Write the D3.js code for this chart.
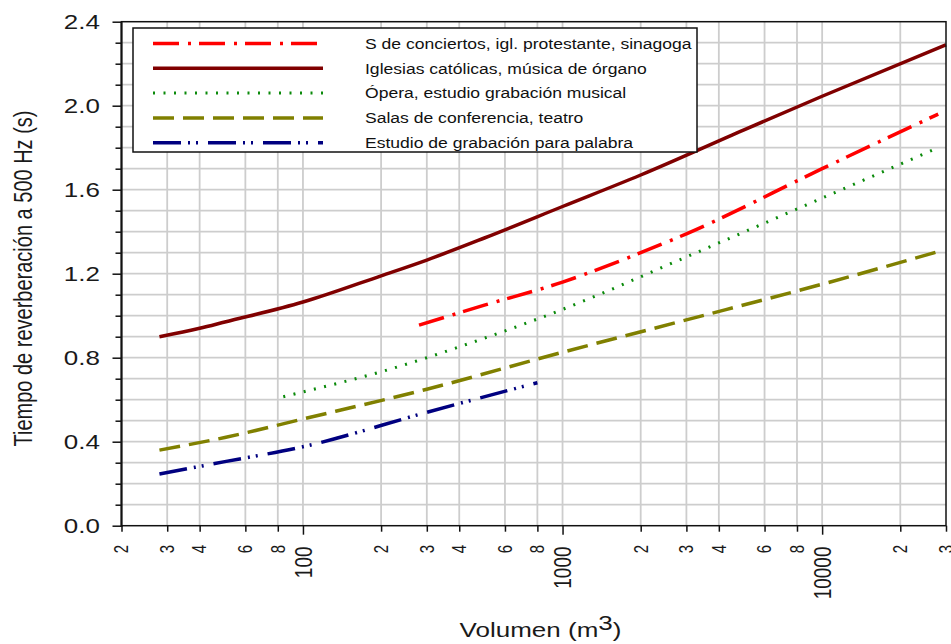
<!DOCTYPE html>
<html>
<head>
<meta charset="utf-8">
<script src="https://cdn.jsdelivr.net/npm/d3@7"></script>
<style>
  body { margin: 0; background: #fff; }
  svg { display: block; font-family: 'Liberation Sans', Arial, sans-serif; }
</style>
</head>
<body>
<svg width="951" height="644"></svg>
<script>
// legend labels, same order as the series below
const legendLabels = [
    'S de conciertos, igl. protestante, sinagoga',
    'Iglesias católicas, música de órgano',
    'Ópera, estudio grabación musical',
    'Salas de conferencia, teatro',
    'Estudio de grabación para palabra'
];

// volumen (m3) / tiempo de reverberación (s)
const concertVolume = [280, 500, 1000, 2000, 3000, 10000, 28000];
const concertTime = [0.955, 1.05, 1.16, 1.30, 1.39, 1.70, 1.96];
const catholicVolume = [28, 40, 50, 100, 200, 300, 500, 1000, 2000, 5000, 10000, 30000];
const catholicTime = [0.90, 0.94, 0.97, 1.065, 1.19, 1.265, 1.37, 1.52, 1.67, 1.885, 2.045, 2.29];
const operaVolume = [84, 100, 200, 500, 1000, 3000, 10000, 28000];
const operaTime = [0.614, 0.637, 0.733, 0.893, 1.03, 1.28, 1.56, 1.80];
const lectureVolume = [28, 50, 100, 300, 1000, 3000, 10000, 28000];
const lectureTime = [0.36, 0.42, 0.508, 0.65, 0.826, 0.98, 1.15, 1.305];
const speechVolume = [28, 50, 100, 300, 800];
const speechTime = [0.246, 0.305, 0.376, 0.54, 0.681];

// tick values
const xMajorTicks = [100, 1000, 10000];
const xMinorTicks = [20, 30, 40, 60, 80, 200, 300, 400, 600, 800, 2000, 3000, 4000, 6000, 8000, 20000, 30000];
const yMajorTicks = [0, 0.4, 0.8, 1.2, 1.6, 2.0, 2.4];
const yMinorTicks = [0.1, 0.2, 0.3, 0.5, 0.6, 0.7, 0.9, 1.0, 1.1, 1.3, 1.4, 1.5, 1.7, 1.8, 1.9, 2.1, 2.2, 2.3];

function main() {
    const svg = d3.select('svg');
    const stretch = 'scale(1.3,1)'; // text in the picture is wider than normal

    const x = d3.scaleLog().domain([20, 30000]).range([121.5, 946]);
    const y = d3.scaleLinear().domain([0, 2.4]).range([525.7, 21.7]);

    const series = [
        { vol: concertVolume, t: concertTime, color: '#ff0000', width: 3.5, dash: '26 9 3 8' },
        { vol: catholicVolume, t: catholicTime, color: '#800000', width: 3.5, dash: null },
        { vol: operaVolume, t: operaTime, color: '#0a8a0a', width: 3, dash: '2 8.5' },
        { vol: lectureVolume, t: lectureTime, color: '#808000', width: 3.5, dash: '21 9' },
        { vol: speechVolume, t: speechTime, color: '#000080', width: 3.5, dash: '28 7 2 6 2 10' }
    ];

    /** grid */
    const grid = svg.append('g').attr('stroke', '#cdcdcd').attr('stroke-width', 1.8);
    grid.selectAll('.vg')
        .data(xMajorTicks.concat(xMinorTicks).filter(function (d) { return d > 20 && d < 30000; }))
        .enter().append('line')
        .attr('x1', function (d) { return x(d); })
        .attr('x2', function (d) { return x(d); })
        .attr('y1', y(0))
        .attr('y2', y(2.4));
    grid.selectAll('.hg')
        .data(yMajorTicks.concat(yMinorTicks).filter(function (d) { return d > 0 && d < 2.4; }))
        .enter().append('line')
        .attr('x1', x(20))
        .attr('x2', x(30000))
        .attr('y1', function (d) { return y(d); })
        .attr('y2', function (d) { return y(d); });

    /** curves */
    const line = d3.line()
        .x(function (d) { return x(d[0]); })
        .y(function (d) { return y(d[1]); })
        .curve(d3.curveMonotoneX);

    svg.append('g').selectAll('path')
        .data(series)
        .enter().append('path')
        .attr('fill', 'none')
        .attr('stroke', function (d) { return d.color; })
        .attr('stroke-width', function (d) { return d.width; })
        .attr('stroke-dasharray', function (d) { return d.dash; })
        .attr('d', function (d) { return line(d3.zip(d.vol, d.t)); });

    /** frame */
    svg.append('rect')
        .attr('x', x(20)).attr('y', y(2.4))
        .attr('width', x(30000) - x(20)).attr('height', y(0) - y(2.4))
        .attr('fill', 'none').attr('stroke', '#111').attr('stroke-width', 1.5);

    /** ticks (labels drawn separately) */
    svg.append('g').attr('transform', 'translate(0,' + y(0) + ')')
        .call(d3.axisBottom(x).tickValues(xMinorTicks).tickSize(6).tickFormat(''))
        .call(function (g) { g.select('.domain').remove(); });
    svg.append('g').attr('transform', 'translate(0,' + y(0) + ')')
        .call(d3.axisBottom(x).tickValues(xMajorTicks).tickSize(9).tickFormat(''))
        .call(function (g) { g.select('.domain').remove(); });
    svg.append('g').attr('transform', 'translate(' + x(20) + ',0)')
        .call(d3.axisLeft(y).tickValues(yMinorTicks).tickSize(6).tickFormat(''))
        .call(function (g) { g.select('.domain').remove(); });
    svg.append('g').attr('transform', 'translate(' + x(20) + ',0)')
        .call(d3.axisLeft(y).tickValues(yMajorTicks).tickSize(9).tickFormat(''))
        .call(function (g) { g.select('.domain').remove(); });
    svg.selectAll('.tick line').attr('stroke', '#111').attr('stroke-width', 1.5);
    svg.append('line')
        .attr('x1', x(20)).attr('x2', x(20))
        .attr('y1', y(2.4)).attr('y2', y(0) + 1)
        .attr('stroke', '#111').attr('stroke-width', 2);

    /** y tick labels */
    svg.append('g').selectAll('g')
        .data(yMajorTicks)
        .enter().append('g')
        .attr('transform', function (d) { return 'translate(100,' + y(d) + ') ' + stretch; })
        .append('text')
        .attr('text-anchor', 'end')
        .attr('dy', '0.35em')
        .attr('font-size', 20)
        .attr('fill', '#1a1a1a')
        .text(d3.format('.1f'));

    /** x tick labels, rotated */
    svg.append('g').selectAll('g')
        .data(xMinorTicks)
        .enter().append('g')
        .attr('transform', function (d) { return 'translate(' + x(d) + ',545) ' + stretch + ' rotate(-90)'; })
        .append('text')
        .attr('text-anchor', 'end')
        .attr('dy', '0.35em')
        .attr('font-size', 15)
        .attr('fill', '#1a1a1a')
        .text(function (d) { return String(d).charAt(0); });
    svg.append('g').selectAll('g')
        .data(xMajorTicks)
        .enter().append('g')
        .attr('transform', function (d) { return 'translate(' + x(d) + ',546.5) ' + stretch + ' rotate(-90)'; })
        .append('text')
        .attr('text-anchor', 'end')
        .attr('dy', '0.35em')
        .attr('font-size', 19)
        .attr('fill', '#1a1a1a')
        .text(function (d) { return d; });

    /** axis titles */
    const xt = svg.append('g').attr('transform', 'translate(540.5,637) ' + stretch)
        .append('text')
        .attr('text-anchor', 'middle')
        .attr('font-size', 20)
        .attr('fill', '#1a1a1a');
    xt.append('tspan').text('Volumen (m');
    xt.append('tspan').attr('dy', -7).text('3');
    xt.append('tspan').attr('dy', 7).text(')');

    svg.append('g').attr('transform', 'translate(32,278.5) ' + stretch + ' rotate(-90)')
        .append('text')
        .attr('text-anchor', 'middle')
        .attr('font-size', 20)
        .attr('fill', '#1a1a1a')
        .text('Tiempo de reverberación a 500 Hz (s)');

    /** legend */
    const legend = svg.append('g');
    legend.append('rect')
        .attr('x', 133).attr('y', 28)
        .attr('width', 564).attr('height', 124)
        .attr('fill', '#fff').attr('stroke', '#111').attr('stroke-width', 1.5);
    const rows = legend.selectAll('.row')
        .data(series)
        .enter().append('g')
        .attr('class', 'row')
        .attr('transform', function (d, i) { return 'translate(0,' + (43.5 + i * 24.8) + ')'; });
    rows.append('line')
        .attr('x1', 153).attr('x2', 323)
        .attr('stroke', function (d) { return d.color; })
        .attr('stroke-width', function (d) { return d.width; })
        .attr('stroke-dasharray', function (d) { return d.dash; });
    rows.append('g')
        .attr('transform', 'translate(365,0) scale(1.17,1)')
        .append('text')
        .attr('dy', '0.35em')
        .attr('font-size', 15)
        .attr('fill', '#111')
        .text(function (d, i) { return legendLabels[i]; });
}
main();
</script>
</body>
</html>
